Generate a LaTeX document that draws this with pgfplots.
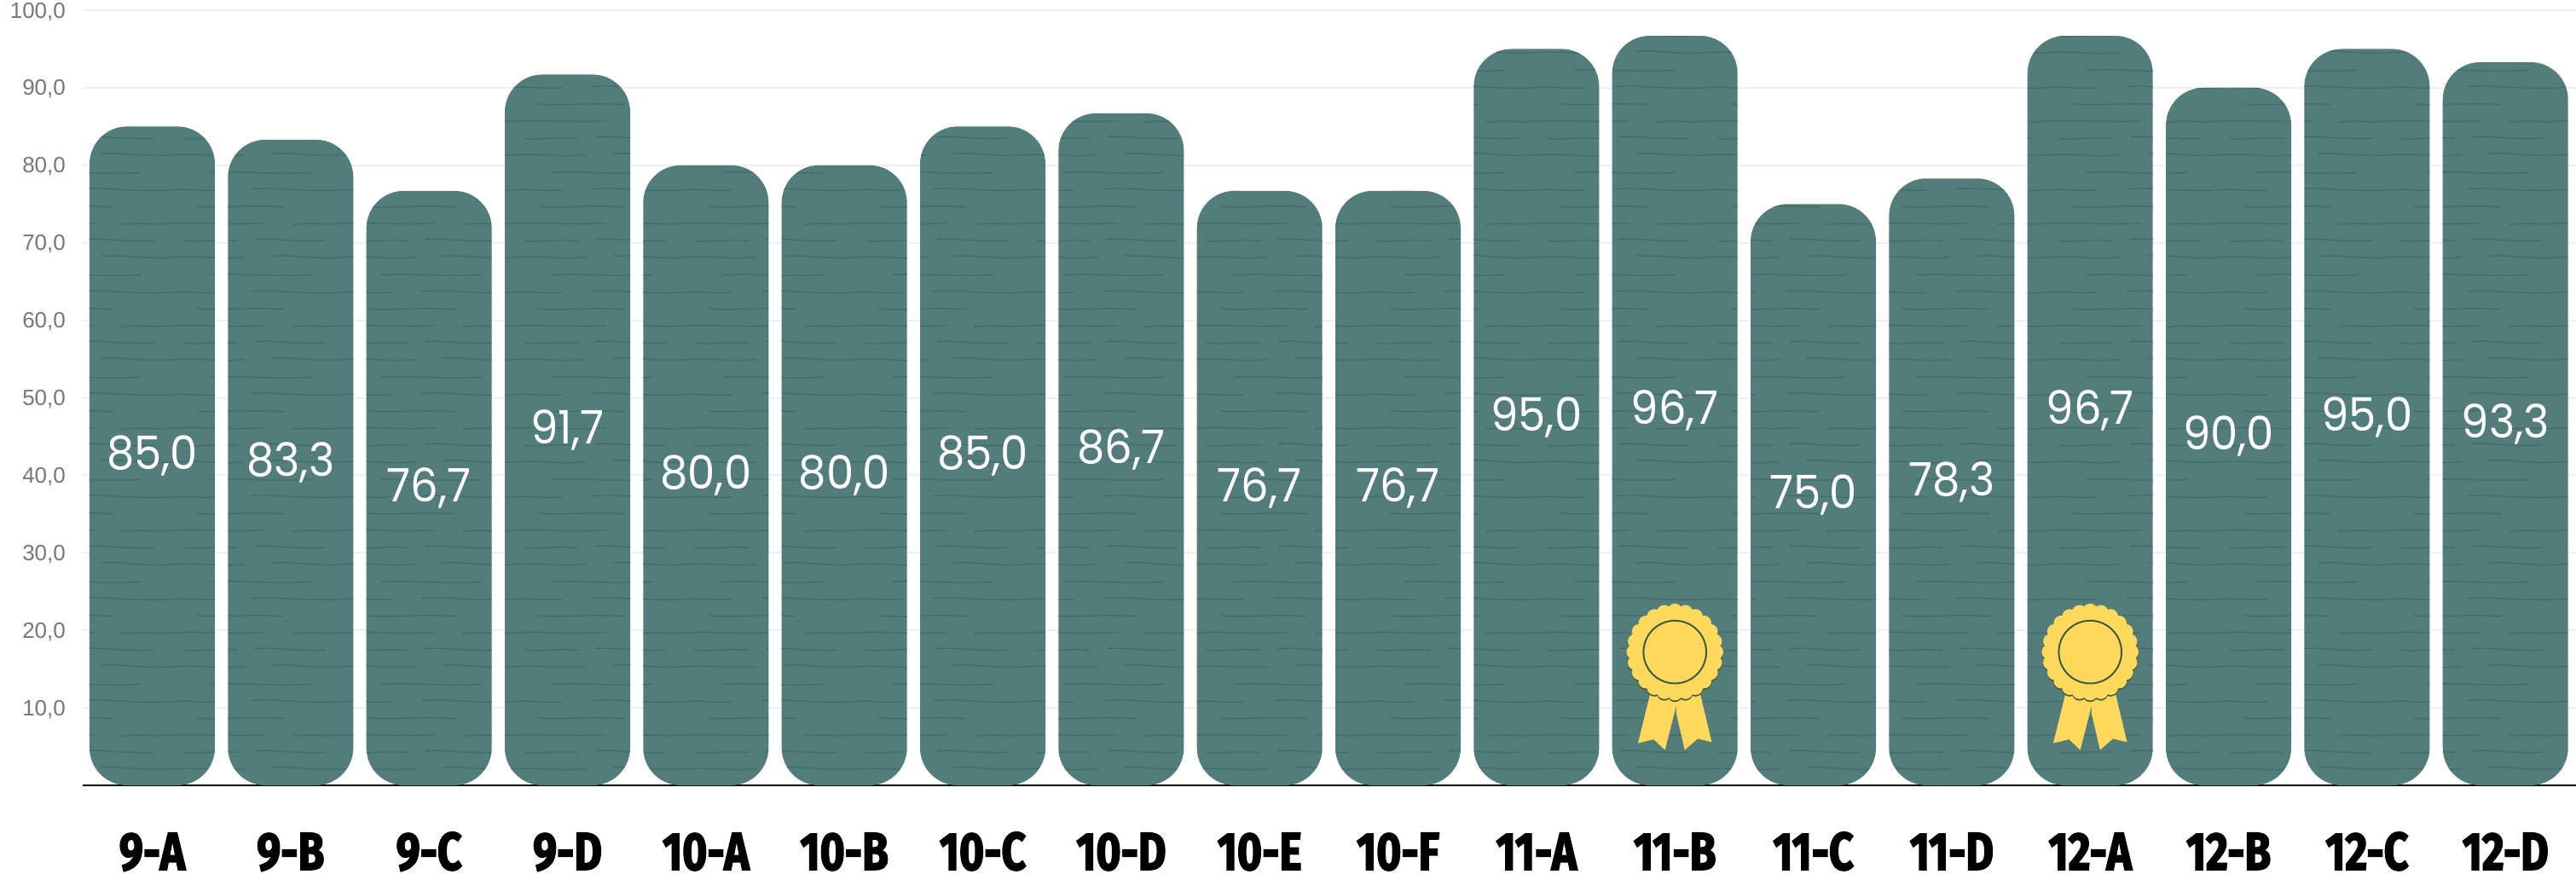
\documentclass[border=0pt]{standalone}
\usepackage{fontspec}
\setmainfont{Liberation Sans}
\newfontfamily\valfont[FakeStretch=0.95]{Poppins}
\newfontfamily\clsfont[FakeStretch=0.8,FakeBold=2.5]{Fira Sans}
\usepackage{pgfplots}
\usepackage{pgfplotstable}
\pgfplotsset{compat=1.18}
\usetikzlibrary{patterns}

\definecolor{barteal}{HTML}{527D7B}
\definecolor{bardark}{HTML}{416B69}
\definecolor{medal}{HTML}{FFD95C}
\definecolor{medalline}{HTML}{3F5A45}
\definecolor{gridgrey}{HTML}{EFEFEF}
\definecolor{ticktext}{HTML}{777777}

% wavy paper lines on the bars
\pgfdeclarepatternformonly{barwaves}{\pgfqpoint{0pt}{0pt}}{\pgfqpoint{50pt}{30pt}}{\pgfqpoint{50pt}{30pt}}{
  \pgfsetlinewidth{0.3pt}
  \pgfpathmoveto{\pgfqpoint{0pt}{2.5pt}}
  \pgfpathcurveto{\pgfqpoint{8pt}{3.3pt}}{\pgfqpoint{14pt}{1.8pt}}{\pgfqpoint{22pt}{2.6pt}}
  \pgfpathmoveto{\pgfqpoint{30pt}{3.0pt}}
  \pgfpathcurveto{\pgfqpoint{36pt}{3.4pt}}{\pgfqpoint{42pt}{2.1pt}}{\pgfqpoint{50pt}{2.5pt}}
  \pgfpathmoveto{\pgfqpoint{4pt}{7.5pt}}
  \pgfpathcurveto{\pgfqpoint{8pt}{6.8pt}}{\pgfqpoint{14pt}{8.2pt}}{\pgfqpoint{20pt}{7.4pt}}
  \pgfpathmoveto{\pgfqpoint{25pt}{7.9pt}}
  \pgfpathcurveto{\pgfqpoint{30pt}{8.4pt}}{\pgfqpoint{36pt}{7.1pt}}{\pgfqpoint{46pt}{7.5pt}}
  \pgfpathmoveto{\pgfqpoint{0pt}{12.5pt}}
  \pgfpathcurveto{\pgfqpoint{10pt}{13.2pt}}{\pgfqpoint{16pt}{11.9pt}}{\pgfqpoint{28pt}{12.7pt}}
  \pgfpathmoveto{\pgfqpoint{36pt}{12.2pt}}
  \pgfpathcurveto{\pgfqpoint{40pt}{12.9pt}}{\pgfqpoint{45pt}{12.2pt}}{\pgfqpoint{50pt}{12.5pt}}
  \pgfpathmoveto{\pgfqpoint{8pt}{17.6pt}}
  \pgfpathcurveto{\pgfqpoint{16pt}{17pt}}{\pgfqpoint{24pt}{18.2pt}}{\pgfqpoint{34pt}{17.4pt}}
  \pgfpathmoveto{\pgfqpoint{0pt}{22.4pt}}
  \pgfpathcurveto{\pgfqpoint{5pt}{23pt}}{\pgfqpoint{10pt}{21.9pt}}{\pgfqpoint{15pt}{22.5pt}}
  \pgfpathmoveto{\pgfqpoint{24pt}{22.8pt}}
  \pgfpathcurveto{\pgfqpoint{32pt}{23.3pt}}{\pgfqpoint{40pt}{21.9pt}}{\pgfqpoint{50pt}{22.4pt}}
  \pgfpathmoveto{\pgfqpoint{12pt}{27.6pt}}
  \pgfpathcurveto{\pgfqpoint{20pt}{28.2pt}}{\pgfqpoint{26pt}{27pt}}{\pgfqpoint{42pt}{27.6pt}}
  \pgfusepath{stroke}
}

% the rosette on the two best classes
\pgfdeclareplotmark{rosette}{
  \pgfsetfillcolor{medal}
  \pgfpathmoveto{\pgfqpoint{-6.7pt}{-10pt}}
  \pgfpathlineto{\pgfqpoint{0.6pt}{-13pt}}
  \pgfpathlineto{\pgfqpoint{0.6pt}{-15pt}}
  \pgfpathlineto{\pgfqpoint{-2.9pt}{-28.7pt}}
  \pgfpathlineto{\pgfqpoint{-6.2pt}{-25.6pt}}
  \pgfpathlineto{\pgfqpoint{-10.8pt}{-26.7pt}}
  \pgfpathclose
  \pgfpathmoveto{\pgfqpoint{6.9pt}{-10pt}}
  \pgfpathlineto{\pgfqpoint{10.8pt}{-26.4pt}}
  \pgfpathlineto{\pgfqpoint{6.7pt}{-25.4pt}}
  \pgfpathlineto{\pgfqpoint{2.9pt}{-28.7pt}}
  \pgfpathlineto{\pgfqpoint{0.4pt}{-17.9pt}}
  \pgfpathlineto{\pgfqpoint{0.6pt}{-13pt}}
  \pgfpathclose
  \pgfusepath{fill}
  \pgfsetfillcolor{medalline}
  \foreach \a in {0,15,...,345} {
    \pgfpathcircle{\pgfpointadd{\pgfpointpolar{\a}{12.0pt}}{\pgfqpoint{0pt}{-0.45pt}}}{2.2pt}
  }
  \pgfusepath{fill}
  \pgfsetfillcolor{medal}
  \foreach \a in {0,15,...,345} {
    \pgfpathcircle{\pgfpointpolar{\a}{12.0pt}}{2.2pt}
  }
  \pgfpathcircle{\pgfpointorigin}{12.4pt}
  \pgfusepath{fill}
  \pgfsetstrokecolor{medalline}
  \pgfsetlinewidth{0.5pt}
  \pgfpathcircle{\pgfpointorigin}{9.2pt}
  \pgfusepath{stroke}
}

\pgfplotstableread{
x  y    label
0  85.0 85,0
1  83.3 83,3
2  76.7 76,7
3  91.7 91,7
4  80.0 80,0
5  80.0 80,0
6  85.0 85,0
7  86.7 86,7
8  76.7 76,7
9  76.7 76,7
10 95.0 95,0
11 96.7 96,7
12 75.0 75,0
13 78.3 78,3
14 96.7 96,7
15 90.0 90,0
16 95.0 95,0
17 93.3 93,3
}\scores

\begin{document}
\begin{tikzpicture}
\begin{axis}[
    scale only axis,
    width=731pt, height=227.25pt,
    xmin=-0.502, xmax=17.51,
    ymin=0, ymax=100,
    clip=false,
    axis x line=bottom,
    axis y line=left,
    axis line style={-},
    x axis line style={black, line width=0.5pt},
    y axis line style={draw=none},
    major tick length=0pt,
    xtick={0,...,17},
    xticklabels={9-A,9-B,9-C,9-D,10-A,10-B,10-C,10-D,10-E,10-F,11-A,11-B,11-C,11-D,12-A,12-B,12-C,12-D},
    xticklabel style={font=\clsfont\bfseries\fontsize{15.6}{16}\selectfont, text=black, anchor=base, yshift=-24.75pt},
    ytick={10,20,...,100},
    yticklabel={\pgfmathprintnumber{\tick}},
    yticklabel style={font=\fontsize{6.5}{7}\selectfont, text=ticktext, xshift=-1.5pt, yshift=-0.4pt},
    /pgf/number format/assume math mode=true,
    /pgf/number format/.cd, fixed, fixed zerofill, precision=1, use comma, /tikz/.cd,
    ymajorgrids,
    y grid style={gridgrey, line width=0.5pt},
]
\addplot[ybar, bar width=36.75pt, bar shift=0pt, fill=barteal, draw=none,
    rounded corners=11pt,
    postaction={pattern=barwaves, pattern color=bardark}]
    table[x=x, y=y] {\scores};
\addplot[draw=none, mark=none, point meta=explicit symbolic,
    nodes near coords,
    nodes near coords align={center},
    every node near coord/.append style={text=white, font=\valfont\fontsize{13.5}{14}\selectfont}]
    table[x=x, y expr=\thisrow{y}/2, meta=label] {\scores};
\addplot[only marks, mark=rosette] coordinates {(11,17.2) (14,17.2)};
\end{axis}
\pgfresetboundingbox
\path[use as bounding box] (-24.25pt,-27.5pt) rectangle (731pt,230.25pt);
\end{tikzpicture}
\end{document}
